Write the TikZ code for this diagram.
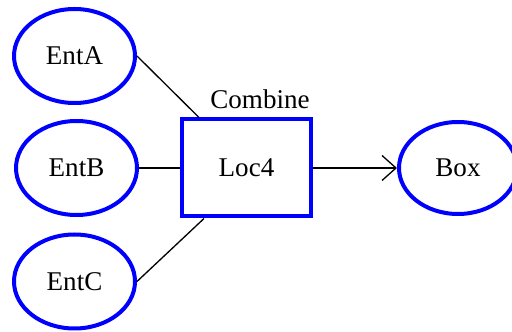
\documentclass[tikz,border=0pt]{standalone}
\usepackage{fontspec}
\setmainfont{LiberationSerif}[Extension=.ttf,UprightFont=*-Regular]
\usetikzlibrary{calc}
\usetikzlibrary{positioning}
\usetikzlibrary{shapes.geometric}
\usetikzlibrary{arrows.meta}

\tikzset{
  ent/.style={ellipse,draw=blue,line width=0.08cm,minimum width=2.42cm,minimum height=1.88cm,inner sep=0pt},
  locbox/.style={rectangle,draw=blue,line width=0.08cm,minimum width=2.58cm,minimum height=1.94cm},
  link/.style={line width=0.75pt}
}

\begin{document}
\begin{tikzpicture}[font=\fontsize{15.4}{18}\selectfont]
\useasboundingbox (0,0) rectangle (10.24,6.64);
% The three entities on the left
\node[ent] (entA) at (1.49,5.52) {EntA};
\node[ent] (entB) at (1.53,3.28) {EntB};
\node[ent] (entC) at (1.49,1.01) {EntC};
% The location box and its label
\node[locbox] (loc4) at (4.93,3.28) {Loc4};
\node (combine) at (5.2,4.66) {Combine};
% The target on the right
\node[ent,minimum width=2.36cm,minimum height=1.84cm] (box) at (9.16,3.28) {Box};
%% Connections
\draw[link] (entA.east) -- ([xshift=0.38cm]loc4.north west); % A
\draw[link] (entB.east) -- (loc4.west); % B
\draw[link] (entC.east) -- ([xshift=0.48cm]loc4.south west); % C
\draw[link,-{Straight Barb[length=0.28cm,width=0.5cm]}] (loc4.east) -- (box.west);
\end{tikzpicture}
\end{document}
